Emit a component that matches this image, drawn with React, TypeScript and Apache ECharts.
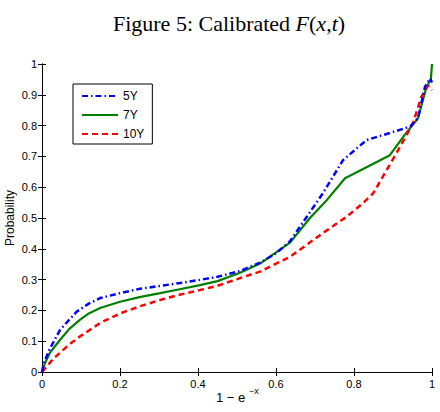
import React, { useEffect, useRef } from "react";
import * as echarts from "echarts";

// Calibrated F(x, t) for three maturities, x-axis transformed as 1 - e^{-x}
const seriesNames = ["5Y", "7Y", "10Y"];
const xTicks = [0, 0.2, 0.4, 0.6, 0.8, 1];
const yTicks = [0, 0.1, 0.2, 0.3, 0.4, 0.5, 0.6, 0.7, 0.8, 0.9, 1];

const curve5Y: [number, number][] = [
  [0, 0], [0.005, 0.03], [0.02, 0.075], [0.046, 0.136], [0.07, 0.17], [0.089, 0.196],
  [0.12, 0.222], [0.149, 0.24], [0.2, 0.256], [0.251, 0.27], [0.3, 0.279], [0.354, 0.289],
  [0.4, 0.298], [0.45, 0.309], [0.508, 0.328], [0.559, 0.355], [0.6, 0.385], [0.636, 0.425],
  [0.679, 0.504], [0.72, 0.58], [0.772, 0.688], [0.832, 0.753], [0.892, 0.776], [0.944, 0.797],
  [0.964, 0.824], [0.982, 0.926], [0.995, 0.953], [1, 0.94],
];

const curve7Y: [number, number][] = [
  [0, 0], [0.008, 0.03], [0.02, 0.062], [0.046, 0.104], [0.07, 0.14], [0.097, 0.169],
  [0.12, 0.19], [0.149, 0.208], [0.2, 0.228], [0.25, 0.243], [0.303, 0.256], [0.35, 0.268],
  [0.405, 0.282], [0.45, 0.295], [0.508, 0.322], [0.559, 0.352], [0.636, 0.42], [0.687, 0.5],
  [0.73, 0.558], [0.777, 0.629], [0.892, 0.704], [0.93, 0.77], [0.964, 0.824], [0.986, 0.926],
  [0.997, 0.95], [1, 1.0],
];

const curve10Y: [number, number][] = [
  [0, 0], [0.012, 0.017], [0.03, 0.045], [0.046, 0.062], [0.07, 0.09], [0.097, 0.115],
  [0.149, 0.159], [0.2, 0.19], [0.25, 0.213], [0.303, 0.234], [0.35, 0.25], [0.405, 0.266],
  [0.45, 0.28], [0.508, 0.305], [0.559, 0.326], [0.636, 0.374], [0.72, 0.451], [0.781, 0.504],
  [0.823, 0.548], [0.849, 0.58], [0.884, 0.656], [0.918, 0.731], [0.951, 0.807], [0.973, 0.894],
  [0.99, 0.93], [1, 0.915],
];

const SANS = "'Liberation Sans', Arial, Helvetica, sans-serif";
const SERIF = "'Liberation Serif', 'Times New Roman', serif";

export default function App() {
  const ref = useRef<HTMLDivElement>(null);

  useEffect(() => {
    if (!ref.current) return;
    const chart = echarts.init(ref.current, undefined, { renderer: "svg" });

    const axisLine = { show: true, lineStyle: { color: "#000", width: 1 } };
    const tick = { show: true, inside: true, length: 4, lineStyle: { color: "#000" } };
    const labelStyle = { color: "#000", fontFamily: SANS, fontSize: 11 };

    chart.setOption({
      animation: false,
      backgroundColor: "#fff",
      title: {
        text: "{n|Figure 5: Calibrated }{i|F}{n|(}{i|x}{n|,}{i|t}{n|)}",
        left: 224,
        textAlign: "center",
        top: 7,
        textStyle: {
          fontWeight: "normal",
          rich: {
            n: { fontFamily: SERIF, fontSize: 22, fontWeight: "normal", color: "#000" },
            i: { fontFamily: SERIF, fontSize: 22, fontWeight: "normal", fontStyle: "italic", color: "#000" },
          },
        },
      },
      grid: { left: 42, right: 8, top: 64, bottom: 40, outerBoundsMode: "none", containLabel: false },
      legend: {
        data: seriesNames,
        orient: "vertical",
        left: 73,
        top: 84,
        padding: [6, 8, 4, 8],
        itemGap: 7,
        itemWidth: 36,
        itemHeight: 10,
        borderColor: "#000",
        borderWidth: 1,
        backgroundColor: "#fff",
        itemStyle: { opacity: 0 },
        textStyle: { color: "#000", fontFamily: SANS, fontSize: 12 },
      },
      xAxis: [
        {
          type: "value",
          min: 0,
          max: 1,
          interval: 0.2,
          axisLine,
          axisTick: tick,
          splitLine: { show: false },
          axisLabel: {
            ...labelStyle,
            margin: 6,
            formatter: (v: number) => (xTicks.includes(+v.toFixed(1)) ? String(+v.toFixed(1)) : ""),
          },
        },
        {
          type: "value",
          position: "top",
          min: 0,
          max: 1,
          interval: 0.2,
          axisLine,
          axisTick: tick,
          splitLine: { show: false },
          axisLabel: { show: false },
        },
      ],
      yAxis: [
        {
          type: "value",
          min: 0,
          max: 1,
          interval: 0.1,
          axisLine,
          axisTick: tick,
          splitLine: { show: false },
          name: "Probability",
          nameLocation: "middle",
          nameGap: 26,
          nameMoveOverlap: false,
          nameTextStyle: { color: "#000", fontFamily: SANS, fontSize: 12 },
          axisLabel: {
            ...labelStyle,
            margin: 5,
            formatter: (v: number) => (yTicks.includes(+v.toFixed(1)) ? String(+v.toFixed(1)) : ""),
          },
        },
        {
          type: "value",
          position: "right",
          min: 0,
          max: 1,
          interval: 0.1,
          axisLine,
          axisTick: tick,
          splitLine: { show: false },
          axisLabel: { show: false },
        },
      ],
      graphic: [
        {
          type: "text",
          left: 216,
          top: 391,
          style: { text: "1 − e", fill: "#000", font: `13px ${SANS}` },
        },
        {
          type: "text",
          left: 249,
          top: 386,
          style: { text: "−x", fill: "#000", font: `9px ${SANS}` },
        },
      ],
      series: [
        {
          name: "5Y",
          type: "line",
          data: curve5Y,
          showSymbol: false,
          symbol: "none",
          z: 3,
          lineStyle: { color: "#0000ff", width: 2.5, type: [6, 3, 1.5, 3] },
          itemStyle: { color: "#0000ff" },
        },
        {
          name: "7Y",
          type: "line",
          data: curve7Y,
          showSymbol: false,
          symbol: "none",
          z: 2,
          lineStyle: { color: "#008000", width: 2.2, type: "solid" },
          itemStyle: { color: "#008000" },
        },
        {
          name: "10Y",
          type: "line",
          data: curve10Y,
          showSymbol: false,
          symbol: "none",
          z: 2,
          lineStyle: { color: "#ff0000", width: 2.5, type: [6, 4] },
          itemStyle: { color: "#ff0000" },
        },
      ],
    });

    return () => chart.dispose();
  }, []);

  return <div ref={ref} style={{ width: 440, height: 412, position: "absolute", left: 0, top: 0 }} />;
}
